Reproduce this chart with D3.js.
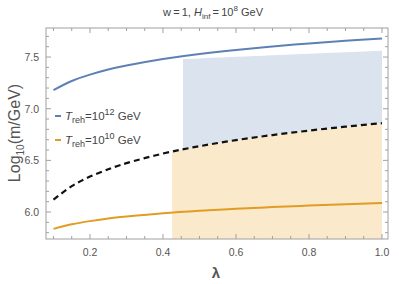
<!DOCTYPE html>
<html>
<head>
<meta charset="utf-8">
<script src="https://cdn.jsdelivr.net/npm/d3@7"></script>
<style>
  body { margin: 0; background: #fff; }
  svg { font-family: "Liberation Sans", Arial, sans-serif; }
  .frame line { stroke: #a0a0a0; }
</style>
</head>
<body>
<svg id="chart" width="399" height="284"></svg>
<script>
// curves
var lambdas = [0.1, 0.15, 0.2, 0.25, 0.3, 0.4, 0.5, 0.6, 0.7, 0.8, 0.9, 1.0];
var blueLine = [7.18, 7.268, 7.33, 7.379, 7.418, 7.481, 7.53, 7.569, 7.603, 7.632, 7.657, 7.68];
var dashedLine = [6.12, 6.25, 6.343, 6.414, 6.473, 6.566, 6.637, 6.696, 6.745, 6.788, 6.826, 6.86];
var orangeLine = [5.837, 5.881, 5.912, 5.937, 5.956, 5.988, 6.012, 6.032, 6.048, 6.063, 6.076, 6.087];

// shaded regions
var orangeFillLam = [0.425, 0.5, 0.6, 0.7, 0.8, 0.9, 1.0];
var orangeFillTop = [6.585, 6.637, 6.696, 6.745, 6.788, 6.826, 6.86];
var blueFillLam = [0.455, 0.5, 0.6, 0.7, 0.8, 0.9, 1.0];
var blueFillLow = [6.607, 6.637, 6.696, 6.745, 6.788, 6.826, 6.86];
var blueFillHigh = [7.48, 7.487, 7.502, 7.517, 7.532, 7.546, 7.56];

var xTicks = [0.2, 0.4, 0.6, 0.8, 1.0];
var yTicks = [6.0, 6.5, 7.0, 7.5];

var svg = d3.select("#chart");
var plotLeft = 46, plotRight = 388, plotTop = 28, plotBottom = 239;

var x = d3.scaleLinear().domain([0.0795, 1.0165]).range([plotLeft, plotRight]);
var y = d3.scaleLinear().domain([5.739, 7.781]).range([plotBottom, plotTop]);

svg.append("defs").append("clipPath").attr("id", "plotclip")
  .append("rect").attr("x", plotLeft).attr("y", plotTop)
  .attr("width", plotRight - plotLeft).attr("height", plotBottom - plotTop);

var plot = svg.append("g").attr("clip-path", "url(#plotclip)");

// orange band under the dashed curve
var orangeArea = d3.area()
  .curve(d3.curveNatural)
  .x(function(d, i) { return x(orangeFillLam[i]); })
  .y0(function() { return y(5.739); })
  .y1(function(d) { return y(d); });
plot.append("path").datum(orangeFillTop)
  .attr("d", orangeArea)
  .attr("fill", "#fbe9cc");

// blue band above the dashed curve
var blueArea = d3.area()
  .curve(d3.curveNatural)
  .x(function(d, i) { return x(blueFillLam[i]); })
  .y0(function(d, i) { return y(blueFillLow[i]); })
  .y1(function(d) { return y(d); });
plot.append("path").datum(blueFillHigh)
  .attr("d", blueArea)
  .attr("fill", "#dbe3ef");

var line = d3.line()
  .curve(d3.curveNatural)
  .x(function(d, i) { return x(lambdas[i]); })
  .y(function(d) { return y(d); });

plot.append("path").datum(blueLine)
  .attr("d", line).attr("fill", "none")
  .attr("stroke", "#5e81b5").attr("stroke-width", 2);
plot.append("path").datum(orangeLine)
  .attr("d", line).attr("fill", "none")
  .attr("stroke", "#e19c24").attr("stroke-width", 2);
plot.append("path").datum(dashedLine)
  .attr("d", line).attr("fill", "none")
  .attr("stroke", "#111").attr("stroke-width", 2.2)
  .attr("stroke-dasharray", "6,4");

// frame with inward ticks on all sides
var frame = svg.append("g").attr("class", "frame");
frame.append("rect")
  .attr("x", plotLeft).attr("y", plotTop)
  .attr("width", plotRight - plotLeft).attr("height", plotBottom - plotTop)
  .attr("fill", "none").attr("stroke", "#a0a0a0").attr("stroke-width", 1);

var xMinor = d3.range(0.1, 1.001, 0.05);
xMinor.forEach(function(v) {
  var major = xTicks.some(function(t) { return Math.abs(t - v) < 1e-6; });
  var len = major ? 5 : 3;
  frame.append("line").attr("x1", x(v)).attr("x2", x(v))
    .attr("y1", plotBottom).attr("y2", plotBottom - len);
  frame.append("line").attr("x1", x(v)).attr("x2", x(v))
    .attr("y1", plotTop).attr("y2", plotTop + len);
});
var yMinor = d3.range(5.8, 7.75, 0.1);
yMinor.forEach(function(v) {
  var major = yTicks.some(function(t) { return Math.abs(t - v) < 1e-6; });
  var len = major ? 5 : 3;
  frame.append("line").attr("x1", plotLeft).attr("x2", plotLeft + len)
    .attr("y1", y(v)).attr("y2", y(v));
  frame.append("line").attr("x1", plotRight).attr("x2", plotRight - len)
    .attr("y1", y(v)).attr("y2", y(v));
});

// tick labels
svg.append("g").selectAll("text").data(xTicks).join("text")
  .attr("x", function(d) { return x(d); })
  .attr("y", 256)
  .attr("text-anchor", "middle")
  .attr("font-size", 10.5).attr("fill", "#555")
  .text(function(d) { return d3.format(".1f")(d); });

svg.append("g").selectAll("text").data(yTicks).join("text")
  .attr("x", 39)
  .attr("y", function(d) { return y(d) + 4; })
  .attr("text-anchor", "end")
  .attr("font-size", 10.5).attr("fill", "#555")
  .text(function(d) { return d3.format(".1f")(d); });

// axis labels
svg.append("text")
  .attr("x", 216).attr("y", 278)
  .attr("text-anchor", "middle")
  .attr("font-size", 15).attr("font-weight", "bold").attr("fill", "#555")
  .text("λ");

var yl = svg.append("text")
  .attr("transform", "translate(20,133) rotate(-90)")
  .attr("text-anchor", "middle")
  .attr("font-size", 16).attr("fill", "#555");
yl.append("tspan").text("Log");
yl.append("tspan").attr("font-size", 10).attr("dy", 4).text("10");
yl.append("tspan").attr("dy", -4).text("(m/GeV)");

// title
var title = svg.append("text")
  .attr("x", 213).attr("y", 16)
  .attr("text-anchor", "middle")
  .attr("font-size", 11).attr("fill", "#444");
title.append("tspan").text("w\u2009=\u20091, ");
title.append("tspan").attr("font-style", "italic").text("H");
title.append("tspan").attr("font-size", 8).attr("dy", 3).text("inf");
title.append("tspan").attr("dy", -3).text("\u2009=\u200910");
title.append("tspan").attr("font-size", 8).attr("dy", -5).text("8");
title.append("tspan").attr("dy", 5).text(" GeV");

// legend
var legendItems = [
  {color: "#5e81b5", exp: "12", ly: 116},
  {color: "#e19c24", exp: "10", ly: 140}
];
legendItems.forEach(function(d) {
  svg.append("line")
    .attr("x1", 55).attr("x2", 61)
    .attr("y1", d.ly).attr("y2", d.ly)
    .attr("stroke", d.color).attr("stroke-width", 2);
  var t = svg.append("text")
    .attr("x", 65).attr("y", d.ly + 4)
    .attr("font-size", 11.5).attr("fill", "#444");
  t.append("tspan").attr("font-style", "italic").text("T");
  t.append("tspan").attr("font-size", 9).attr("dy", 3).text("reh");
  t.append("tspan").attr("dy", -3).text("=10");
  t.append("tspan").attr("font-size", 9).attr("dy", -5).text(d.exp);
  t.append("tspan").attr("dy", 5).text(" GeV");
});
</script>
</body>
</html>
